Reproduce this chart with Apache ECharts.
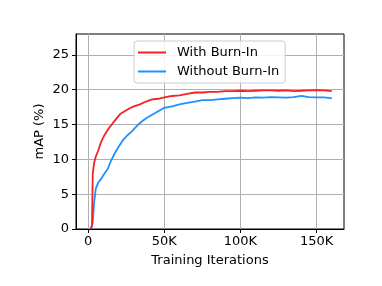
<!DOCTYPE html>
<html><head><meta charset="utf-8">
<script src="https://cdn.jsdelivr.net/npm/echarts@6/dist/echarts.min.js"></script>
<style>html,body{margin:0;padding:0;background:#fff}#c{width:382px;height:286px}</style>
</head><body><div id="c"></div>
<script>
const seriesNames = ['With Burn-In', 'Without Burn-In'];
const withBurnIn = [[1500,0],[2500,0.5],[3000,8.0],[4000,9.6],[5000,10.4],[6500,11.2],[8500,12.5],[10500,13.4],[13000,14.3],[15500,15.0],[18000,15.7],[21000,16.5],[24000,16.9],[27000,17.3],[30000,17.6],[34000,17.9],[38000,18.3],[42000,18.6],[46000,18.7],[50000,18.9],[55000,19.1],[60000,19.2],[65000,19.4],[70000,19.6],[75000,19.6],[80000,19.7],[85000,19.7],[90000,19.8],[95000,19.8],[100000,19.85],[105000,19.8],[110000,19.85],[115000,19.9],[120000,19.9],[125000,19.85],[130000,19.9],[135000,19.8],[140000,19.85],[145000,19.9],[150000,19.95],[155000,19.9],[160000,19.8]];
const withoutBurnIn = [[2000,0],[3000,1.0],[4000,4.0],[5000,5.8],[6500,6.6],[8500,7.2],[10500,7.9],[13000,8.7],[15000,9.8],[17500,10.9],[20000,11.8],[23000,12.8],[26000,13.5],[29000,14.1],[32000,14.8],[35000,15.4],[38000,15.9],[42000,16.4],[46000,16.9],[50000,17.4],[55000,17.6],[60000,17.9],[65000,18.1],[70000,18.3],[75000,18.5],[80000,18.5],[85000,18.6],[90000,18.7],[95000,18.8],[100000,18.85],[105000,18.8],[110000,18.9],[115000,18.85],[120000,18.95],[125000,18.9],[130000,18.85],[135000,18.95],[140000,19.1],[145000,18.95],[150000,18.9],[155000,18.9],[160000,18.75]];
const xTicks = [0, 50000, 100000, 150000];
const xTickLabels = ['0', '50K', '100K', '150K'];
const yTicks = [0, 5, 10, 15, 20, 25];

const FONT = 'DejaVu Sans';
const chart = echarts.init(document.getElementById('c'), null, {renderer: 'canvas'});
chart.setOption({
  animation: false,
  backgroundColor: '#fff',
  textStyle: {fontFamily: FONT},
  grid: {left: 76, right: 38, top: 34, bottom: 57, show: true, borderColor: '#000', borderWidth: 1, backgroundColor: 'transparent'},
  legend: {
    data: seriesNames,
    orient: 'vertical',
    left: 134, top: 41,
    padding: [4, 6, 4, 4],
    itemGap: 4,
    itemWidth: 28, itemHeight: 2,
    icon: 'rect',
    backgroundColor: 'rgba(255,255,255,0.85)',
    borderColor: '#cccccc', borderWidth: 1, borderRadius: 3,
    textStyle: {fontFamily: FONT, fontSize: 13, color: '#000', lineHeight: 15, padding: [0, 0, 0, 6]}
  },
  xAxis: {
    type: 'value', min: -8000, max: 168000,
    name: 'Training Iterations', nameLocation: 'middle', nameGap: 25, nameMoveOverlap: false,
    nameTextStyle: {fontFamily: FONT, fontSize: 13, color: '#000'},
    axisLine: {show: true, onZero: false, lineStyle: {color: '#000', width: 1}},
    axisTick: {show: true, customValues: xTicks, length: 4, lineStyle: {color: '#000'}},
    axisLabel: {customValues: xTicks, fontFamily: FONT, fontSize: 13, color: '#000', margin: 6,
      formatter: v => xTickLabels[xTicks.indexOf(v)]},
    splitLine: {show: true, lineStyle: {color: '#b0b0b0', width: 1}}
  },
  yAxis: {
    type: 'value', min: 0, max: 28,
    name: 'mAP (%)', nameLocation: 'middle', nameGap: 30, nameMoveOverlap: false,
    nameTextStyle: {fontFamily: FONT, fontSize: 13, color: '#000'},
    axisLine: {show: true, onZero: false, lineStyle: {color: '#000', width: 1}},
    axisTick: {show: true, customValues: yTicks, length: 4, lineStyle: {color: '#000'}},
    axisLabel: {customValues: yTicks, fontFamily: FONT, fontSize: 13, color: '#000', margin: 7},
    splitLine: {show: true, lineStyle: {color: '#b0b0b0', width: 1}}
  },
  series: [
    {name: seriesNames[0], type: 'line', data: withBurnIn, showSymbol: false, symbol: 'none', color: '#f52222', lineStyle: {width: 1.8}, z: 3},
    {name: seriesNames[1], type: 'line', data: withoutBurnIn, showSymbol: false, symbol: 'none', color: '#1e90ff', lineStyle: {width: 1.8}, z: 2}
  ]
});
</script></body></html>
